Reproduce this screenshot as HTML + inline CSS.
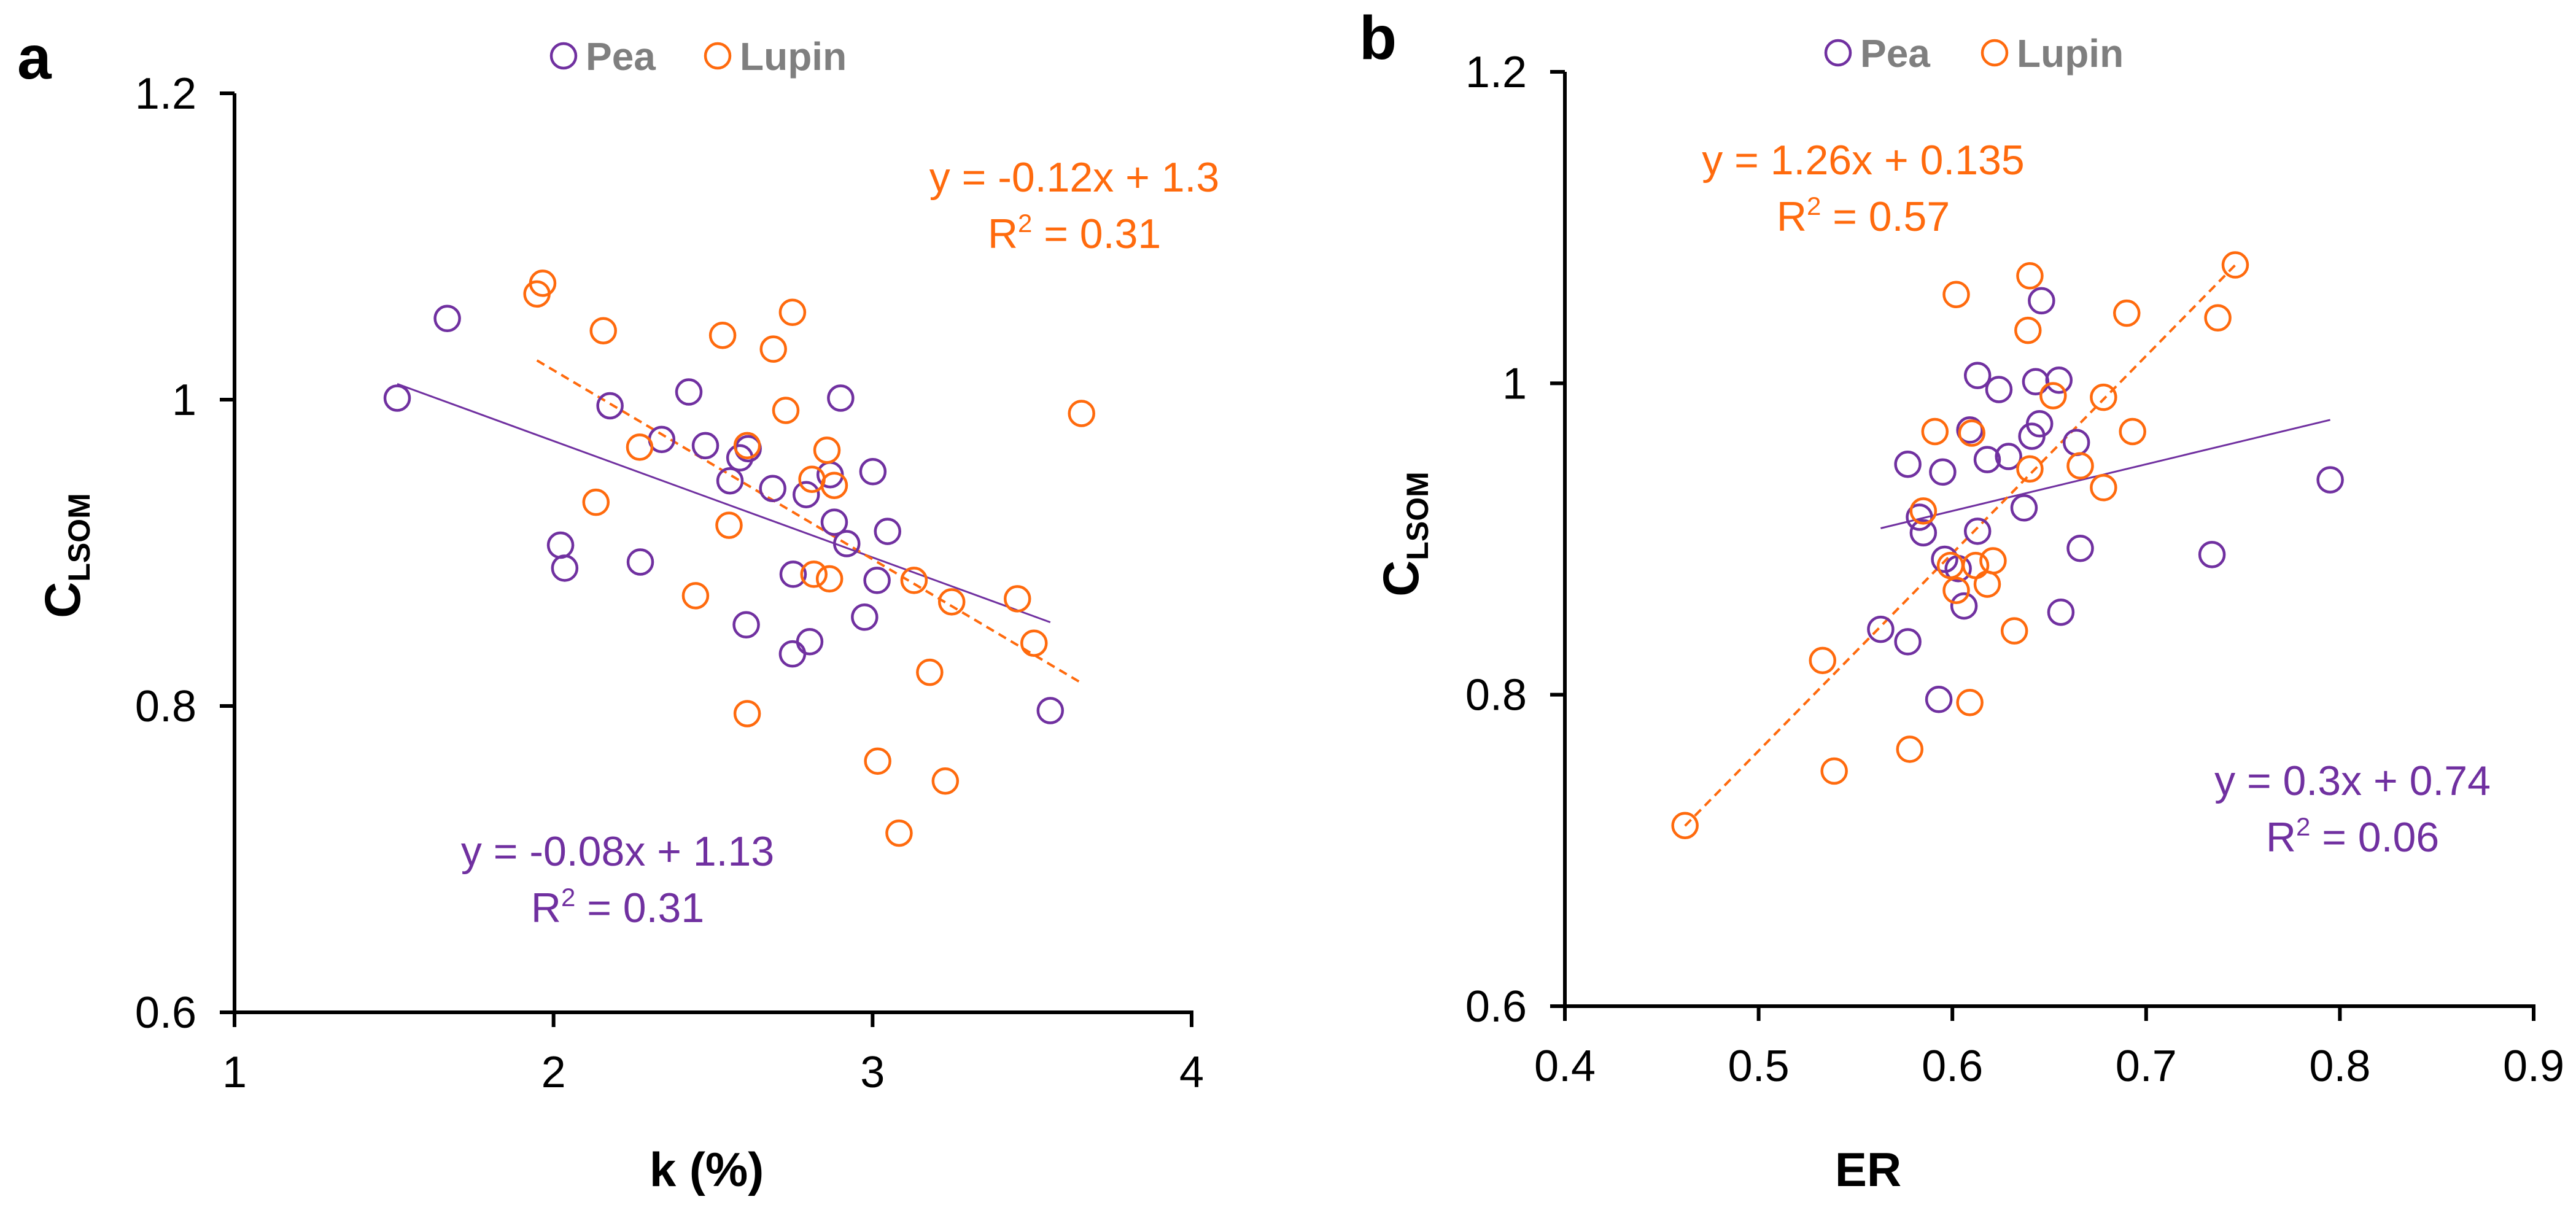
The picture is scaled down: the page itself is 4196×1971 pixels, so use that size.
<!DOCTYPE html>
<html><head><meta charset="utf-8"><style>
html,body{margin:0;padding:0;background:#fff;}
svg{display:block;font-family:"Liberation Sans",sans-serif;}
</style></head><body>
<svg id="chart" width="4196" height="1971" viewBox="0 0 4196 1971" xmlns="http://www.w3.org/2000/svg"></svg>
<script>
// Panel a data (k %, C_LSOM)
const aPeaX=[1.51,1.667,2.177,2.339,2.424,2.476,2.553,2.584,2.61,2.687,2.792,2.867,2.90,3.001,2.88,2.919,3.047,2.022,2.035,2.272,2.751,3.014,2.975,2.604,2.803,2.749,3.557];
const aPeaY=[1.001,1.053,0.996,0.974,1.005,0.970,0.947,0.962,0.968,0.942,0.938,0.951,1.001,0.953,0.920,0.906,0.914,0.905,0.890,0.894,0.886,0.882,0.858,0.853,0.842,0.834,0.797];
const aLupX=[1.948,1.966,2.156,2.530,2.689,2.749,2.728,3.655,2.270,2.607,2.857,2.810,2.880,2.133,2.550,2.816,2.865,3.130,3.248,3.454,2.445,3.506,3.179,2.607,3.016,3.228,3.083];
const aLupY=[1.069,1.076,1.045,1.042,1.033,1.057,0.993,0.991,0.969,0.970,0.967,0.948,0.944,0.933,0.918,0.886,0.883,0.882,0.868,0.870,0.872,0.841,0.822,0.795,0.764,0.751,0.717];
const aTrend=[-0.076,1.125,-0.1234,1.266]; // pea slope, intercept, lupin slope, intercept
const aXTicks=[1,2,3,4];
const yTicks=[0.6,0.8,1,1.2];
const yTickLabels=["0.6","0.8","1","1.2"];
// Panel b data (ER, C_LSOM)
const bPeaX=[0.646,0.613,0.624,0.643,0.655,0.609,0.645,0.641,0.664,0.577,0.595,0.618,0.629,0.583,0.585,0.613,0.637,0.795,0.596,0.603,0.666,0.734,0.606,0.656,0.563,0.577,0.593];
const bPeaY=[1.053,1.005,0.996,1.001,1.002,0.970,0.974,0.966,0.962,0.948,0.943,0.951,0.953,0.914,0.904,0.905,0.920,0.938,0.887,0.881,0.894,0.890,0.857,0.853,0.842,0.834,0.797];
const bLupX=[0.746,0.640,0.602,0.639,0.690,0.737,0.652,0.678,0.591,0.610,0.693,0.640,0.666,0.678,0.585,0.599,0.612,0.621,0.602,0.618,0.632,0.533,0.609,0.578,0.539,0.462];
const bLupY=[1.076,1.069,1.057,1.034,1.045,1.042,0.992,0.991,0.969,0.968,0.969,0.945,0.947,0.933,0.918,0.883,0.883,0.886,0.867,0.871,0.841,0.822,0.795,0.765,0.751,0.716];
const bTrend=[0.3,0.738,1.268,0.130];
const bXTicks=[0.4,0.5,0.6,0.7,0.8,0.9];
const bXTickLabels=["0.4","0.5","0.6","0.7","0.8","0.9"];

const NS="http://www.w3.org/2000/svg";
const svg=document.getElementById('chart');
const PURPLE="#7030A0", ORANGE="#FF6A0D";
function mk(tag,attrs,parent,text){const e=document.createElementNS(NS,tag);for(const k in attrs)e.setAttribute(k,attrs[k]);if(text!==undefined)e.textContent=text;(parent||svg).appendChild(e);return e;}

function panel(cfg){
  const g=mk('g',{});
  
  
  const sx=v=>cfg.x0+(v-cfg.xmin)/(cfg.xmax-cfg.xmin)*(cfg.x1-cfg.x0);
  const sy=v=>cfg.y0-(v-0.6)/(1.2-0.6)*(cfg.y0-cfg.y1);
  const ya=mk('line',{x1:cfg.x0,y1:cfg.y1,x2:cfg.x0,y2:cfg.y0,stroke:'#000','stroke-width':6},g);
  
  const xa=mk('line',{x1:cfg.x0-3,y1:cfg.y0,x2:cfg.x1+3,y2:cfg.y0,stroke:'#000','stroke-width':6},g);
  
  yTicks.forEach((v,i)=>{
    const t=mk('line',{x1:cfg.x0-24,y1:sy(v),x2:cfg.x0,y2:sy(v),stroke:'#000','stroke-width':6},g);
    
    const l=mk('text',{x:cfg.x0-62,y:sy(v)+25,'text-anchor':'end','font-size':72,fill:'#000'},g,yTickLabels[i]);
    
  });
  cfg.xt.forEach((v,i)=>{
    const t=mk('line',{x1:sx(v),y1:cfg.y0,x2:sx(v),y2:cfg.y0+24,stroke:'#000','stroke-width':6},g);
    
    const l=mk('text',{x:sx(v),y:cfg.y0+122,'text-anchor':'middle','font-size':72,fill:'#000'},g,cfg.xtl[i]);
    
  });
  const trend=(slope,ic,xs,color,dash,name)=>{
    const lo=Math.min(...xs),hi=Math.max(...xs);
    const l=mk('line',{x1:sx(lo),y1:sy(slope*lo+ic),x2:sx(hi),y2:sy(slope*hi+ic),stroke:color,'stroke-width':dash?4:3,'stroke-dasharray':dash?'14 9':'none'},g);
    
  };
  trend(cfg.tr[0],cfg.tr[1],cfg.px,PURPLE,false,'pea-trendline');
  trend(cfg.tr[2],cfg.tr[3],cfg.lx,ORANGE,true,'lupin-trendline');
  const pts=(xs,ys,color,name)=>{
    xs.forEach((v,i)=>{
      const c=mk('circle',{cx:sx(v),cy:sy(ys[i]),r:20,fill:'none',stroke:color,'stroke-width':4.5},g);
      
    });
  };
  pts(cfg.px,cfg.py,PURPLE,'pea-point');
  pts(cfg.lx,cfg.ly,ORANGE,'lupin-point');
  const pl=mk('text',{x:cfg.letter[0],y:cfg.letter[1],'font-size':100,'font-weight':'bold',fill:'#000'},g,cfg.letterText);
  
  const lg=mk('g',{},g);
  const e1=mk('circle',{cx:cfg.leg[0],cy:cfg.leg[1],r:20,fill:'none',stroke:PURPLE,'stroke-width':4.5},lg);
  
  const t1=mk('text',{x:cfg.leg[0]+36,y:cfg.leg[1]+23,'font-size':64,'font-weight':'bold',fill:'#7F7F7F'},lg,'Pea');
  
  const e2=mk('circle',{cx:cfg.leg[2],cy:cfg.leg[1],r:20,fill:'none',stroke:ORANGE,'stroke-width':4.5},lg);
  
  const t2=mk('text',{x:cfg.leg[2]+36,y:cfg.leg[1]+23,'font-size':64,'font-weight':'bold',fill:'#7F7F7F'},lg,'Lupin');
  
  const eq=(x,y,color,l1,r2,name)=>{
    const a=mk('text',{x:x,y:y,'text-anchor':'middle','font-size':68,fill:color},g,l1);
    
    const b=mk('text',{x:x,y:y+92,'text-anchor':'middle','font-size':68,fill:color},g);
    
    mk('tspan',{},b,'R');mk('tspan',{'font-size':42,dy:-26},b,'2');mk('tspan',{dy:26},b,' = '+r2);
  };
  eq(cfg.eqL[0],cfg.eqL[1],ORANGE,cfg.eqL[2],cfg.eqL[3],'lupin');
  eq(cfg.eqP[0],cfg.eqP[1],PURPLE,cfg.eqP[2],cfg.eqP[3],'pea');
  const xt=mk('text',{x:cfg.xTitle[0],y:cfg.xTitle[1],'text-anchor':'middle','font-size':78,'font-weight':'bold',fill:'#000'},g,cfg.xTitle[2]);
  
  const yt=mk('text',{transform:`translate(${cfg.yTitle[0]},${cfg.yTitle[1]}) rotate(-90)`,'text-anchor':'middle','font-size':82,'font-weight':'bold',fill:'#000'},g);
  
  mk('tspan',{},yt,'C');mk('tspan',{'font-size':50,dy:16},yt,'LSOM');
}

panel({name:'panel-a',x0:382,x1:1941,y0:1649,y1:152,xmin:1,xmax:4,xt:aXTicks,xtl:aXTicks.map(String),
  px:aPeaX,py:aPeaY,lx:aLupX,ly:aLupY,tr:aTrend,letter:[28,128],letterText:'a',leg:[918,91,1169],
  eqL:[1750,312,'y = -0.12x + 1.3','0.31'],eqP:[1006,1410,'y = -0.08x + 1.13','0.31'],
  xTitle:[1151,1932,'k (%)'],yTitle:[130,905]});
panel({name:'panel-b',x0:2549,x1:4127,y0:1639,y1:117,xmin:0.4,xmax:0.9,xt:bXTicks,xtl:bXTickLabels,
  px:bPeaX,py:bPeaY,lx:bLupX,ly:bLupY,tr:bTrend,letter:[2214,96],letterText:'b',leg:[2994,86,3249],
  eqL:[3035,284,'y = 1.26x + 0.135','0.57'],eqP:[3832,1295,'y = 0.3x + 0.74','0.06'],
  xTitle:[3043,1932,'ER'],yTitle:[2310,870]});
</script>
</body></html>
